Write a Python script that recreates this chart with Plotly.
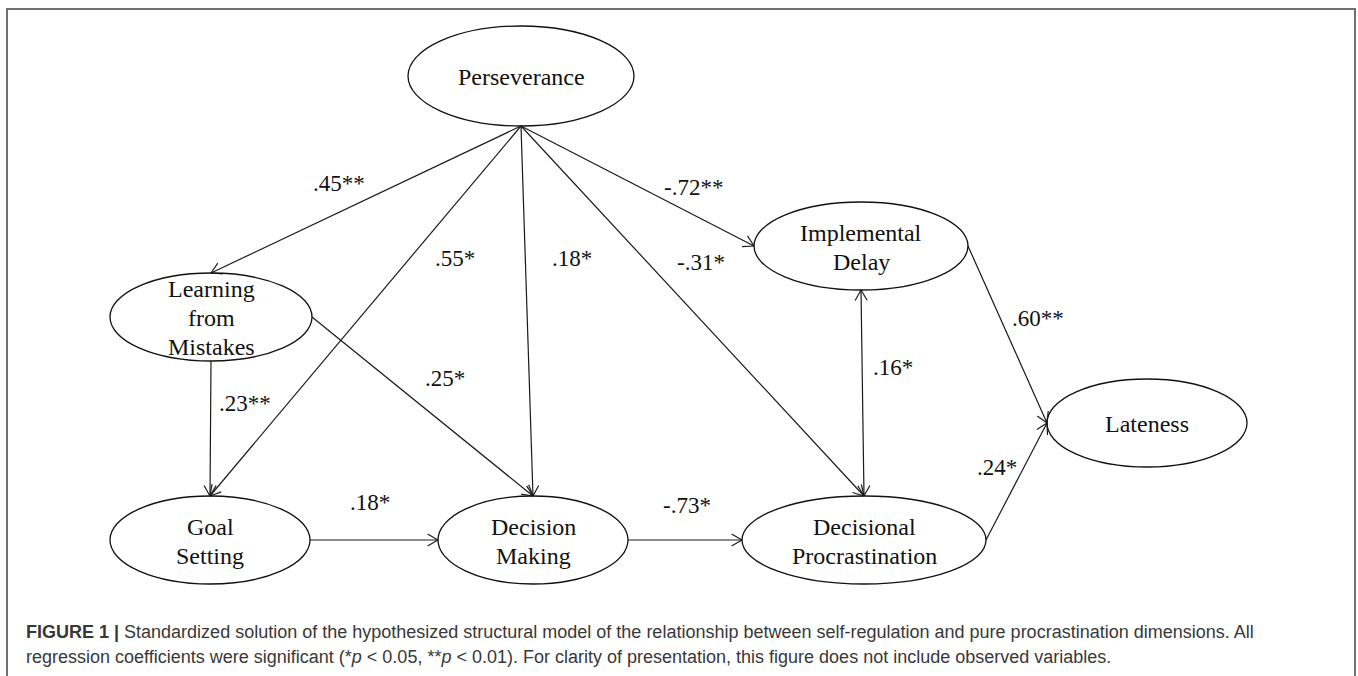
import math
import plotly.graph_objects as go

# ---------------- data ----------------
node_names = ["Perseverance", "Learning from Mistakes", "Goal Setting", "Decision Making",
              "Implemental Delay", "Decisional Procrastination", "Lateness"]
node_lines = [["Perseverance"], ["Learning", "from", "Mistakes"], ["Goal", "Setting"],
              ["Decision", "Making"], ["Implemental", "Delay"],
              ["Decisional", "Procrastination"], ["Lateness"]]

edge_from = ["Perseverance", "Perseverance", "Perseverance", "Perseverance", "Perseverance",
             "Learning from Mistakes", "Learning from Mistakes", "Goal Setting",
             "Decision Making", "Implemental Delay", "Implemental Delay",
             "Decisional Procrastination"]
edge_to = ["Learning from Mistakes", "Goal Setting", "Decision Making", "Implemental Delay",
           "Decisional Procrastination", "Goal Setting", "Decision Making", "Decision Making",
           "Decisional Procrastination", "Decisional Procrastination", "Lateness", "Lateness"]
edge_coef = [".45**", ".55*", ".18*", "-.72**", "-.31*", ".23**", ".25*", ".18*",
             "-.73*", ".16*", ".60**", ".24*"]
edge_both = [False, False, False, False, False, False, False, False, False, True, False, False]

caption_lines = [
    "<b>FIGURE 1 |</b> Standardized solution of the hypothesized structural model of the "
    "relationship between self-regulation and pure procrastination dimensions. All",
    "regression coefficients were significant (*<i>p</i> &lt; 0.05, **<i>p</i> &lt; 0.01). "
    "For clarity of presentation, this figure does not include observed variables.",
]

# ---------------- layout (geometry, pixels) ----------------
W, H = 1358, 676
node_cx = [521, 211, 210, 533, 861, 864, 1147]
node_cy = [76, 317, 540, 540, 246, 540, 423]
node_rx = [113, 101, 100, 95, 107, 122, 100]
node_ry = [50, 44, 44, 44, 44, 44, 44]
from_anchor = ["bottom"] * 5 + ["bottom", "right", "right", "right", "bottom", "right", "right"]
to_anchor = ["top", "top", "top", "left", "top", "top", "top", "left", "left", "top", "left", "left"]
label_x = [339, 455, 572, 693, 701, 245, 445, 370, 687, 893, 1038, 997]
label_y = [183, 258, 258, 187, 262, 403, 378, 502, 505, 367, 318, 467]
line_gap = 29
caption_y = [632, 657]

idx = {n: i for i, n in enumerate(node_names)}


def anchor(name, where):
    i = idx[name]
    cx, cy, rx, ry = node_cx[i], node_cy[i], node_rx[i], node_ry[i]
    return {"top": (cx, cy - ry), "bottom": (cx, cy + ry),
            "left": (cx - rx, cy), "right": (cx + rx, cy)}[where]


fig = go.Figure()

# ellipses
shapes = []
for i in range(len(node_names)):
    shapes.append(dict(type="circle", xref="x", yref="y",
                       x0=node_cx[i] - node_rx[i], x1=node_cx[i] + node_rx[i],
                       y0=node_cy[i] - node_ry[i], y1=node_cy[i] + node_ry[i],
                       line=dict(color="#111111", width=1.3), fillcolor="rgba(0,0,0,0)"))
# frame
shapes.append(dict(type="rect", xref="x", yref="y", x0=7, x1=1355, y0=9, y1=720,
                   line=dict(color="#707070", width=2)))

# edges and arrowheads
ex, ey = [], []
hx, hy = [], []
L, th = 12, math.radians(30)


def head(px, py, ux, uy):
    for s in (1, -1):
        c, si = math.cos(s * th), math.sin(s * th)
        vx, vy = ux * c - uy * si, ux * si + uy * c
        hx.extend([px - L * vx, px, None])
        hy.extend([py - L * vy, py, None])


for k in range(len(edge_from)):
    x0, y0 = anchor(edge_from[k], from_anchor[k])
    x1, y1 = anchor(edge_to[k], to_anchor[k])
    ex.extend([x0, x1, None])
    ey.extend([y0, y1, None])
    d = math.hypot(x1 - x0, y1 - y0)
    ux, uy = (x1 - x0) / d, (y1 - y0) / d
    head(x1, y1, ux, uy)
    if edge_both[k]:
        head(x0, y0, -ux, -uy)

fig.add_trace(go.Scatter(x=ex, y=ey, mode="lines", line=dict(color="#1a1a1a", width=1.2),
                         hoverinfo="skip", showlegend=False))
fig.add_trace(go.Scatter(x=hx, y=hy, mode="lines", line=dict(color="#1a1a1a", width=1.2),
                         hoverinfo="skip", showlegend=False))

annotations = []
serif = "Liberation Serif, Times New Roman, serif"
for i, lines in enumerate(node_lines):
    n = len(lines)
    for j, t in enumerate(lines):
        annotations.append(dict(x=node_cx[i], y=node_cy[i] + 1 + (j - (n - 1) / 2) * line_gap,
                                xref="x", yref="y", text=t, showarrow=False,
                                xanchor="center", yanchor="middle",
                                font=dict(family=serif, size=24, color="#111111")))
for k, t in enumerate(edge_coef):
    annotations.append(dict(x=label_x[k], y=label_y[k], xref="x", yref="y", text=t,
                            showarrow=False, xanchor="center", yanchor="middle",
                            font=dict(family=serif, size=23, color="#111111")))
for j, t in enumerate(caption_lines):
    annotations.append(dict(x=24, y=caption_y[j], xref="x", yref="y", text=t, showarrow=False,
                            xanchor="left", yanchor="middle",
                            font=dict(family="Liberation Sans, Arial, sans-serif", size=18,
                                      color="#383838")))

fig.update_layout(
    width=W, height=H, margin=dict(l=0, r=0, t=0, b=0),
    paper_bgcolor="white", plot_bgcolor="white",
    xaxis=dict(range=[0, W], visible=False, fixedrange=True),
    yaxis=dict(range=[H, 0], visible=False, fixedrange=True),
    shapes=shapes, annotations=annotations, showlegend=False,
)

fig.write_html("out.html", config={"displayModeBar": False},
               post_script="document.body.style.margin='0';document.body.style.overflow='hidden';")
